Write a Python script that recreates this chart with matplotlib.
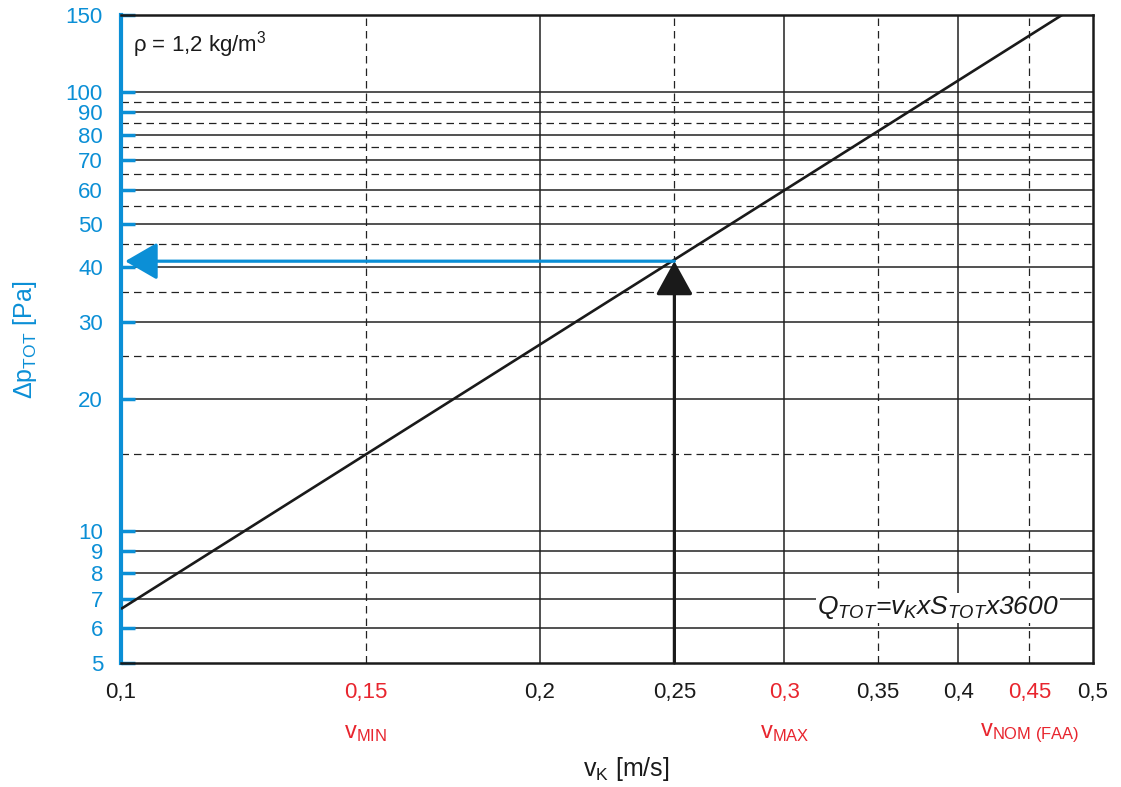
import matplotlib
matplotlib.use("Agg")
import matplotlib.pyplot as plt
import matplotlib.transforms as mtransforms
from matplotlib.ticker import NullLocator

# -------- Data --------
line_v = [0.1, 0.475]          # m/s
line_dp = [6.64, 150]          # Pa (power law -> straight line on log-log)

point_v = 0.25
point_dp = 41.2

y_ticks = [5, 6, 7, 8, 9, 10, 20, 30, 40, 50, 60, 70, 80, 90, 100, 150]
y_solid = [6, 7, 8, 9, 10, 20, 30, 40, 50, 60, 70, 80, 90, 100]
y_dashed = [15, 25, 35, 45, 55, 65, 75, 85, 95]

x_ticks = [0.1, 0.15, 0.2, 0.25, 0.3, 0.35, 0.4, 0.45, 0.5]
x_labels = ["0,1", "0,15", "0,2", "0,25", "0,3", "0,35", "0,4", "0,45", "0,5"]
x_red = [0.15, 0.3, 0.45]
x_solid = [0.2, 0.3, 0.4]
x_dashed = [0.15, 0.25, 0.35, 0.45]

v_marks = [0.15, 0.3, 0.45]
v_names = [r"v$_{\mathrm{MIN}}$", r"v$_{\mathrm{MAX}}$", r"v$_{\mathrm{NOM\ (FAA)}}$"]

# -------- Style --------
BLUE = "#0b8fd6"
RED = "#e8252e"
DARK = "#1a1a1a"
plt.rcParams["font.family"] = ["Liberation Sans", "DejaVu Sans"]
plt.rcParams["mathtext.fontset"] = "custom"
plt.rcParams["mathtext.rm"] = "Liberation Sans"
plt.rcParams["mathtext.it"] = "Liberation Sans:italic"
plt.rcParams["mathtext.bf"] = "Liberation Sans:bold"

fig = plt.figure(figsize=(11.21, 7.87), dpi=100)
ax = fig.add_axes([121 / 1121, 1 - 663 / 787, 972 / 1121, 648 / 787])
ax.set_xscale("log")
ax.set_yscale("log")
ax.set_xlim(0.1, 0.5)
ax.set_ylim(5, 150)

# grid
dash = (0, (6, 4))
for y in y_solid:
    ax.axhline(y, color="#222222", lw=1.1, zorder=1)
for y in y_dashed:
    ax.axhline(y, color="#222222", lw=0.9, ls=dash, zorder=1)
for x in x_solid:
    ax.axvline(x, color="#222222", lw=1.1, zorder=1)
for x in x_dashed:
    ax.axvline(x, color="#222222", lw=0.9, ls=dash, zorder=1)

# main curve
ax.plot(line_v, line_dp, color=DARK, lw=1.9, zorder=3, solid_capstyle="butt")

# arrows
ax.annotate("", xy=(0.1007, point_dp), xytext=(point_v, point_dp),
            arrowprops=dict(arrowstyle="-|>,head_length=0.95,head_width=0.55",
                            mutation_scale=21, color=BLUE, lw=2.3,
                            shrinkA=0, shrinkB=0), zorder=4)
ax.annotate("", xy=(point_v, point_dp), xytext=(point_v, 5),
            arrowprops=dict(arrowstyle="-|>,head_length=1.0,head_width=0.55",
                            mutation_scale=21, color=DARK, lw=2.3,
                            shrinkA=0, shrinkB=0), zorder=4)

# spines
for side in ["top", "right", "bottom"]:
    ax.spines[side].set_color(DARK)
    ax.spines[side].set_linewidth(1.8)
ax.spines["left"].set_color(BLUE)
ax.spines["left"].set_linewidth(3)

# ticks
ax.set_yticks(y_ticks)
ax.set_yticklabels([str(t) for t in y_ticks])
ax.yaxis.set_minor_locator(NullLocator())
ax.tick_params(axis="y", which="major", direction="in", length=10, width=2.5,
               color=BLUE, labelcolor=BLUE, labelsize=16, pad=13)
ax.set_xticks(x_ticks)
ax.set_xticklabels(x_labels)
ax.xaxis.set_minor_locator(NullLocator())
ax.tick_params(axis="x", which="major", length=0, labelsize=16, pad=14)
for lbl, t in zip(ax.get_xticklabels(), x_ticks):
    lbl.set_color(RED if t in x_red else DARK)

# labels
ax.set_ylabel(r"Δp$_{\mathrm{TOT}}$ [Pa]", color=BLUE, fontsize=18)
ax.yaxis.set_label_coords(-0.084, 0.498)
ax.set_xlabel(r"v$_{\mathrm{K}}$ [m/s]", color=DARK, fontsize=18)
ax.xaxis.set_label_coords(0.52, -0.142)

trans = mtransforms.blended_transform_factory(ax.transData, ax.transAxes)
for v, name in zip(v_marks, v_names):
    ax.text(v, -0.108, name, color=RED, fontsize=17, ha="center",
            va="center", transform=trans)

ax.text(0.0125, 0.955, r"ρ = 1,2 kg/m$^3$", transform=ax.transAxes,
        fontsize=16, color=DARK, va="center", ha="left")
ax.text(0.716, 0.085, r"$Q_{TOT}$=$v_{K}$x$S_{TOT}$x3600", transform=ax.transAxes,
        fontsize=19, style="italic", color=DARK, va="center", ha="left",
        bbox=dict(facecolor="white", edgecolor="none", pad=1), zorder=5)

fig.savefig("out.png", dpi=100)
